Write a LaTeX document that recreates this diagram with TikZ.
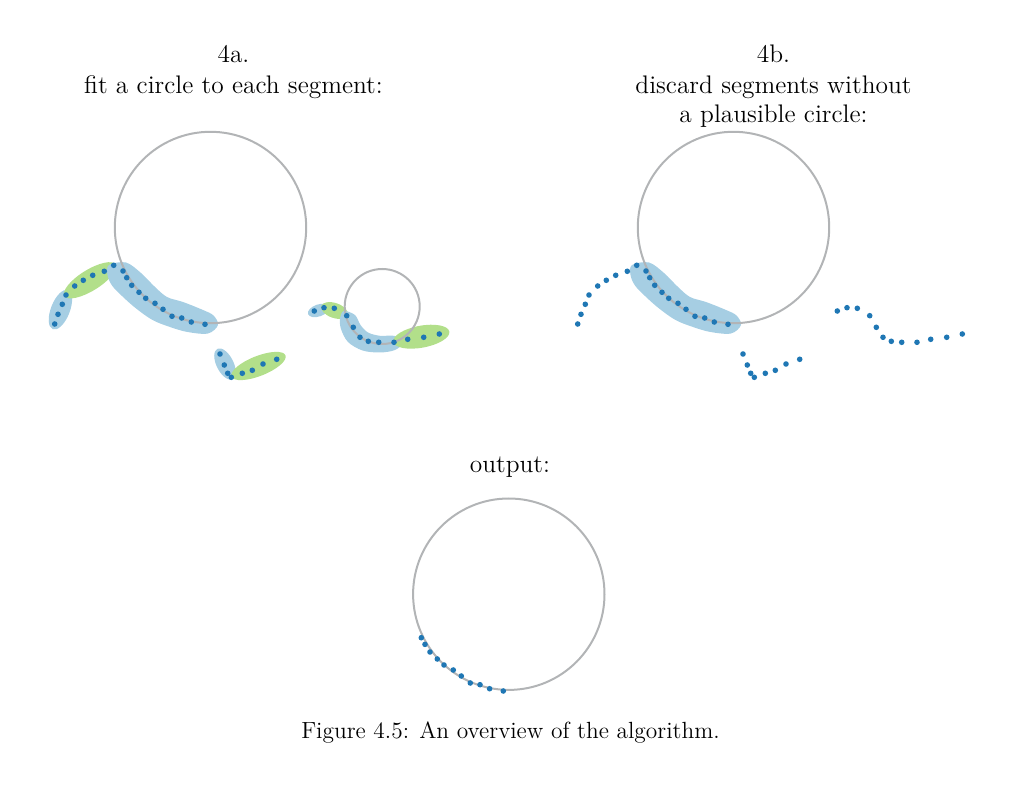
\documentclass[tikz,border=0pt]{standalone}
\usepackage{fontspec}
\definecolor{dotblue}{RGB}{31,119,180}
\definecolor{lblue}{RGB}{166,206,227}
\definecolor{lgreen}{RGB}{178,223,138}
\definecolor{cgray}{RGB}{178,180,182}
\tikzset{
  fitcircle/.style={draw=cgray, line width=1pt},
  ptdot/.style={fill=dotblue},
  blueblob/.style={fill=lblue},
  greenblob/.style={fill=lgreen},
  ttl/.style={font=\fontsize{12.7}{15}\selectfont, anchor=base, inner sep=0pt},
  captxt/.style={font=\fontsize{11.7}{14}\selectfont, anchor=base, inner sep=0pt},
}
\newcommand\segA{577.7/324, 581/314.3, 585.3/304.3, 589/295, 597.7/286, 606.3/280.3, 615.7/275.3, 627.3/271.3, 636.7/265.3}
\newcommand\segB{646/271, 649.7/277.7, 654.7/285.3, 662/292.3, 668.7/298.3, 678/303.3, 686/309.3, 695/316.3, 704.7/318, 714.3/322, 728/324.3}
\newcommand\segC{743/354, 747.3/365, 750.7/373.3, 754.3/377.3, 765.3/373.3, 775.3/370.3, 786/364, 799.7/359.3}
\newcommand\segD{837.3/311, 847/307.7, 857.3/308.3, 869.7/315.7, 876.3/327.3, 883/337.3, 891.3/341.3, 901.7/342.3, 917/342.3, 930.7/339.3, 946.7/337.3, 962.3/334}
\newcommand\bigblob{\fill[blueblob] plot[smooth cycle, tension=0.55] coordinates {(109,265) (126,262.5) (141,273) (154.5,286.5) (167,297) (183,302) (203,310) (213.5,315.5) (218,325) (208,333.5) (187.5,332) (170,327) (152.5,320) (135.5,308) (122,296) (112,285.5) (107.5,275)};}
\begin{document}
\begin{tikzpicture}[x=0.5pt,y=-0.5pt]
\useasboundingbox (0,0) rectangle (1024,791);

% ---------- titles ----------
\node[ttl] (ta1) at (233.5,62.5) {4a.};
\node[ttl] (ta2) at (233.5,94) {fit a circle to each segment:};
\node[ttl] (tb1) at (773.5,62.5) {4b.};
\node[ttl] (tb2) at (773.5,94) {discard segments without};
\node[ttl] (tb3) at (773.5,122.5) {a plausible circle:};
\node[ttl] (tout) at (510,472.5) {output:};
\node[captxt] (capt) at (510.5,738) {Figure 4.5: An overview of the algorithm.};

% ---------- panel 4a: blobs ----------
\fill[blueblob, rotate around={68.7:(60.4,309.7)}] (60.4,309.7) ellipse [x radius=21, y radius=9.5];
\fill[greenblob, rotate around={31.7:(90,280.3)}] (90,280.3) ellipse [x radius=30, y radius=10.5];
\bigblob
\fill[blueblob, rotate around={-63.3:(225,364)}] (225,364) ellipse [x radius=17, y radius=8.5];
\fill[greenblob, rotate around={21.5:(258.5,366)}] (258.5,366) ellipse [x radius=29, y radius=10];
\fill[blueblob, rotate around={19:(318.5,310.5)}] (318.5,310.5) ellipse [x radius=11, y radius=6];
\fill[greenblob, rotate around={-19:(334.5,310.5)}] (334.5,310.5) ellipse [x radius=14, y radius=7.5];
\fill[blueblob] plot[smooth cycle, tension=0.55] coordinates {(344,311) (355,315) (360.5,325) (368,332.5) (380,335.8) (395,336) (402,343.3) (395,350) (380,352.5) (362.5,350.5) (348,342) (341,329) (340,318)};
\fill[greenblob, rotate around={10.4:(421.3,336.7)}] (421.3,336.7) ellipse [x radius=28.5, y radius=11];

% ---------- panel 4b: blob ----------
\begin{scope}[shift={(523,0)}]
  \bigblob
\end{scope}

% ---------- circles ----------
\draw[fitcircle] (210.5,227.5) circle (95.7);
\draw[fitcircle] (382.2,306.5) circle (37.5);
\draw[fitcircle] (733.5,227.5) circle (95.7);
\draw[fitcircle] (508.8,594.2) circle (95.7);

% ---------- points ----------
\begin{scope}[shift={(-523,0)}]
  \foreach \x/\y in \segA {\fill[ptdot] (\x,\y) circle (2.8);}
  \foreach \x/\y in \segB {\fill[ptdot] (\x,\y) circle (2.8);}
  \foreach \x/\y in \segC {\fill[ptdot] (\x,\y) circle (2.8);}
  \foreach \x/\y in \segD {\fill[ptdot] (\x,\y) circle (2.8);}
\end{scope}
\foreach \x/\y in \segA {\fill[ptdot] (\x,\y) circle (2.8);}
\foreach \x/\y in \segB {\fill[ptdot] (\x,\y) circle (2.8);}
\foreach \x/\y in \segC {\fill[ptdot] (\x,\y) circle (2.8);}
\foreach \x/\y in \segD {\fill[ptdot] (\x,\y) circle (2.8);}
\begin{scope}[shift={(-224.7,366.7)}]
  \foreach \x/\y in \segB {\fill[ptdot] (\x,\y) circle (2.8);}
\end{scope}
\end{tikzpicture}
\end{document}
